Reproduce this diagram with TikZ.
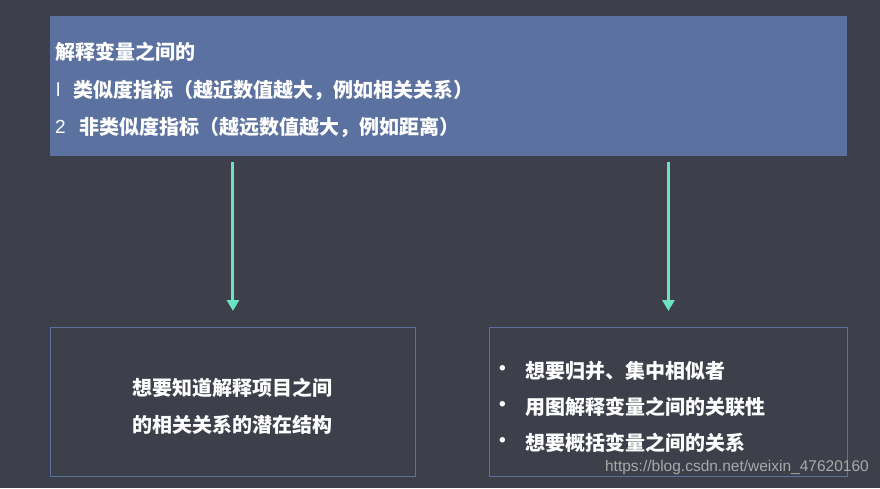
\documentclass[tikz,border=0pt]{standalone}
\usepackage{fontspec}
\setmainfont{Liberation Sans}
\newfontfamily\cjk{Noto Sans CJK SC}
\usetikzlibrary{arrows.meta}
\definecolor{bg}{HTML}{3D404B}
\definecolor{boxblue}{HTML}{5B71A0}
\definecolor{arrowgreen}{HTML}{6BE3C0}
\definecolor{wm}{HTML}{A8A8A8}
\tikzset{
  x=1pt,y=-1pt,
  txt/.style={text=white,font=\cjk\bfseries\fontsize{20}{24}\selectfont,inner sep=0pt,anchor=west},
  num/.style={text=white,font=\fontsize{19}{22}\selectfont,inner sep=0pt,anchor=west},
  arr/.style={draw=arrowgreen,line width=3pt,-{Triangle[width=12pt,length=11pt]}},
  outbox/.style={draw=boxblue,line width=0.9pt,inner sep=0pt,anchor=north west},
}
\begin{document}
\begin{tikzpicture}
\fill[bg] (0,0) rectangle (880,488);
\useasboundingbox (0,0) rectangle (880,488);
\node[fill=boxblue,inner sep=0pt,minimum width=797pt,minimum height=140pt,anchor=north west] (top) at (50,16) {};
\node[outbox,minimum width=365pt,minimum height=149pt] (lb) at (50,327) {};
\node[outbox,minimum width=358pt,minimum height=149pt] (rb) at (489,327) {};
\node[txt] (t1) at (55,52) {解释变量之间的};
\node[num] (n1) at (56,90) {l};
\node[txt] (t2) at (73,90) {类似度指标（越近数值越大，例如相关关系）};
\node[num] (n2) at (55,127) {2};
\node[txt] (t3) at (79,127) {非类似度指标（越远数值越大，例如距离）};
\draw[arr,shorten <=6pt,shorten >=16pt] (top.south -| lb.north) -- (lb.north);
\draw[arr,shorten <=6pt,shorten >=16pt] (top.south -| rb.north) -- (rb.north);
\node[txt,anchor=center] (l1) at (232,388) {想要知道解释项目之间};
\node[txt,anchor=center] (l2) at (232,425) {的相关关系的潜在结构};
\node[num,font=\bfseries\fontsize{19}{22}\selectfont] (b1) at (499,370) {•};
\node[txt] (r1) at (525,371) {想要归并、集中相似者};
\node[num,font=\bfseries\fontsize{19}{22}\selectfont] (b2) at (499,406) {•};
\node[txt] (r2) at (525,407) {用图解释变量之间的关联性};
\node[num,font=\bfseries\fontsize{19}{22}\selectfont] (b3) at (499,442) {•};
\node[txt] (r3) at (525,443) {想要概括变量之间的关系};
\node[text=wm,font=\fontsize{15.5}{18}\selectfont,inner sep=0pt,anchor=east] (wmk) at (869,467) {https://blog.csdn.net/weixin\_47620160};
\end{tikzpicture}
\end{document}
